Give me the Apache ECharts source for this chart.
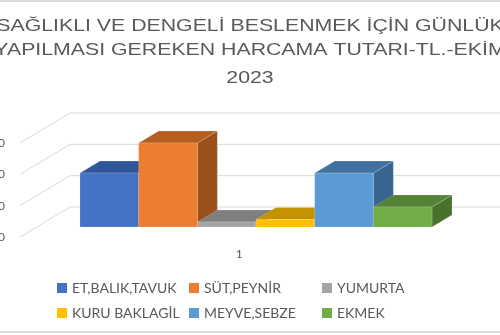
<!DOCTYPE html>
<html>
<head>
<meta charset="utf-8">
<script src="https://cdn.jsdelivr.net/npm/echarts@6/dist/echarts.min.js"></script>
<style>
html,body{margin:0;padding:0;background:#fff;}
#wrap{position:relative;width:500px;height:335px;overflow:hidden;}
#chart{width:500px;height:335px;}
.edge{position:absolute;left:0;width:500px;height:2px;background:#d9d9d9;}
</style>
</head>
<body>
<div id="wrap">
<div id="chart"></div>
<div class="edge" style="top:0"></div>
<div class="edge" style="top:331px"></div>
</div>
<script>
// ---- data ----
const titleLines = ['SAĞLIKLI VE DENGELİ BESLENMEK İÇİN GÜNLÜK', 'YAPILMASI GEREKEN HARCAMA TUTARI-TL.-EKİM', '2023'];
const categories = ['1'];
const seriesNames = ['ET,BALIK,TAVUK', 'SÜT,PEYNİR', 'YUMURTA', 'KURU BAKLAGİL', 'MEYVE,SEBZE', 'EKMEK'];
const seriesValues = [86, 134, 8, 12, 86, 32];
const yTicks = [0, 50, 100, 150];
const frontColors = ['#4472C4', '#ED7D31', '#A5A5A5', '#FFC000', '#5B9BD5', '#70AD47'];
const topColors   = ['#30569A', '#B45E20', '#7F7F7F', '#C49300', '#41729F', '#548236'];
const sideColors  = ['#2B4C88', '#9B4F1B', '#6E6E6E', '#AE8200', '#386590', '#48712C'];

// ---- layout (3D projection) ----
const DX = 20, DY = -12;
const BACKX = 33.3, BACKY = -20;
const FRONTX = -16.7, FRONTY = 10;
const GROUP = 0.8026;
const titleY = [26.5, 50, 78];

const chart = echarts.init(document.getElementById('chart'), null, {renderer: 'canvas'});
const font = 'Lato, "Open Sans", sans-serif';
const titleFont = '"Liberation Sans", Arial, sans-serif';

function wallRender(params, api) {
  const cs = params.coordSys;
  const p = api.coord([0, api.value(1)]);
  const y = p[1];
  const st = {stroke: '#d9d9d9', lineWidth: 1};
  return {
    type: 'group',
    children: [
      {type: 'line', shape: {x1: cs.x + BACKX, y1: y + BACKY, x2: cs.x + cs.width + BACKX + 80, y2: y + BACKY}, style: st},
      {type: 'line', shape: {x1: cs.x + FRONTX, y1: y + FRONTY, x2: cs.x + BACKX, y2: y + BACKY}, style: st}
    ]
  };
}

function barRender(idx) {
  return function (params, api) {
    const base = api.coord([api.value(0), 0]);
    const top = api.coord([api.value(0), api.value(1)]);
    const band = api.size([1, 0])[0];
    const gw = band * GROUP;
    const bw = gw / seriesNames.length;
    const x0 = base[0] - gw / 2 + idx * bw;
    const x1 = x0 + bw;
    const yb = base[1], yt = top[1];
    const edge = 'rgba(255,255,255,0.35)';
    return {
      type: 'group',
      children: [
        {type: 'polygon', shape: {points: [[x1, yt], [x1 + DX, yt + DY], [x1 + DX, yb + DY], [x1, yb]]},
          style: {fill: sideColors[idx], stroke: edge, lineWidth: 0.5}},
        {type: 'polygon', shape: {points: [[x0, yt], [x1, yt], [x1 + DX, yt + DY], [x0 + DX, yt + DY]]},
          style: {fill: topColors[idx], stroke: edge, lineWidth: 0.5}},
        {type: 'rect', shape: {x: x0, y: yt, width: bw, height: yb - yt},
          style: {fill: frontColors[idx], stroke: edge, lineWidth: 0.5}}
      ]
    };
  };
}

const series = [{
  type: 'custom',
  name: 'walls',
  xAxisIndex: 0, yAxisIndex: 0,
  silent: true,
  z: 1,
  renderItem: wallRender,
  data: yTicks.map(v => [0, v])
}];
seriesNames.forEach((n, i) => {
  series.push({
    type: 'custom',
    name: n,
    xAxisIndex: 0, yAxisIndex: 0,
    z: 2,
    itemStyle: {color: frontColors[i]},
    renderItem: barRender(i),
    data: [[0, seriesValues[i]]]
  });
});

const legendCommon = {
  orient: 'vertical',
  itemWidth: 10, itemHeight: 10, itemGap: 11,
  icon: 'rect',
  top: 281,
  padding: 0,
  textStyle: {color: '#595959', fontSize: 14, fontFamily: font}
};
const legendCols = [[0, 3], [1, 4], [2, 5]];
const legendLefts = [57, 189, 322];

chart.setOption({
  animation: false,
  backgroundColor: '#ffffff',
  graphic: titleLines.map((t, i) => ({
    type: 'text',
    x: 250, y: titleY[i],
    scaleX: 1.29, scaleY: 1,
    silent: true,
    style: {
      text: t, fill: '#595959',
      fontSize: 16.5, fontFamily: titleFont, fontWeight: 'normal',
      align: 'center', verticalAlign: 'middle',
      textAlign: 'center', textVerticalAlign: 'middle'
    }
  })),
  legend: legendCols.map((c, k) => Object.assign({
    data: c.map(i => seriesNames[i]), left: legendLefts[k]
  }, legendCommon)),
  grid: [
    {left: 36.7, width: 438.6, top: 133, height: 94, outerBoundsMode: 'none', containLabel: false},
    {left: 20, width: 438.6, top: 143, height: 94, outerBoundsMode: 'none', containLabel: false}
  ],
  xAxis: [
    {type: 'category', gridIndex: 0, data: categories, show: false},
    {type: 'category', gridIndex: 1, data: categories,
      axisLine: {show: false}, axisTick: {show: false},
      axisLabel: {color: '#595959', fontSize: 12, fontFamily: font, margin: 11}}
  ],
  yAxis: [
    {type: 'value', gridIndex: 0, min: 0, max: 150, interval: 50, show: false},
    {type: 'value', gridIndex: 1, min: 0, max: 150, interval: 50,
      axisLine: {show: false}, axisTick: {show: false}, splitLine: {show: false},
      axisLabel: {color: '#595959', fontSize: 12, fontFamily: font, margin: 15}}
  ],
  series: series
});
</script>
</body>
</html>
